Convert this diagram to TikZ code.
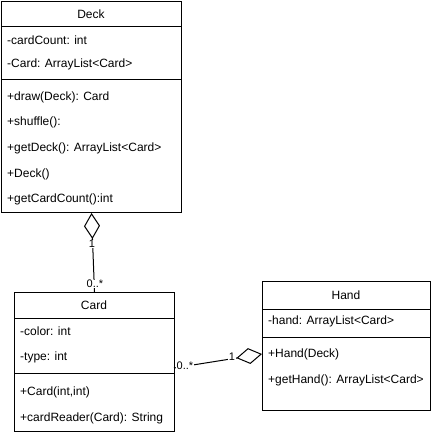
\documentclass[tikz,border=0pt]{standalone}
\usepackage{fontspec}
\setmainfont{Liberation Sans}
\usetikzlibrary{arrows.meta}
\begin{document}
\begin{tikzpicture}[x=1pt,y=-1pt,
  box/.style={draw,line width=1pt,rectangle,inner sep=0pt,anchor=north west},
  txt/.style={anchor=west,inner sep=0pt,font=\fontsize{12}{14}\selectfont},
  ttl/.style={anchor=center,inner sep=0pt,font=\fontsize{12}{14}\selectfont},
  sep/.style={line width=1pt},
  lbl/.style={fill=white,inner sep=0.6pt,font=\fontsize{11}{13}\selectfont},
  agg/.style={line width=1pt,{Diamond[open,length=26pt,width=16pt,line width=1pt]}-}
]
\useasboundingbox (0,0) rectangle (431,434);
% Deck
\node[box,minimum width=180pt,minimum height=211pt] (deck) at (1,1) {};
\draw[sep] (deck.west |- 0,26) -- (deck.east |- 0,26);
\draw[sep] (deck.west |- 0,79) -- (deck.east |- 0,79);
\node[ttl] (deckt) at (91,14) {Deck};
\node[txt] (d1) at (7,40) {-cardCount: int};
\node[txt] (d2) at (7,64) {-Card: ArrayList<Card>};
\node[txt] (d3) at (7,97) {+draw(Deck): Card};
\node[txt] (d4) at (7,122) {+shuffle():};
\node[txt] (d5) at (7,148) {+getDeck(): ArrayList<Card>};
\node[txt] (d6) at (7,174) {+Deck()};
\node[txt] (d7) at (7,199) {+getCardCount():int};
% Card
\node[box,minimum width=160pt,minimum height=139pt] (card) at (14,292) {};
\draw[sep] (card.west |- 0,318) -- (card.east |- 0,318);
\draw[sep] (card.west |- 0,373) -- (card.east |- 0,373);
\node[ttl] (cardt) at (94,305) {Card};
\node[txt] (c1) at (20,331) {-color: int};
\node[txt] (c2) at (20,357) {-type: int};
\node[txt] (c3) at (20,392) {+Card(int,int)};
\node[txt] (c4) at (20,418) {+cardReader(Card): String};
% Hand
\node[box,minimum width=168pt,minimum height=129pt] (hand) at (262,281) {};
\draw[sep] (hand.west |- 0,309) -- (hand.east |- 0,309);
\draw[sep] (hand.west |- 0,337) -- (hand.east |- 0,337);
\node[ttl] (handt) at (346,295) {Hand};
\node[txt] (h1) at (268,321) {-hand: ArrayList<Card>};
\node[txt] (h2) at (268,354) {+Hand(Deck)};
\node[txt] (h3) at (268,380) {+getHand(): ArrayList<Card>};
% connectors
\coordinate (cardR) at (174,368);
\coordinate (handL) at (262,354);
\draw[agg] (deck.south) -- (card.north);
\draw[agg] (handL) -- (cardR);
\node[lbl] (l1) at (92,244) {1};
\node[lbl] (l2) at (95,284) {0..*};
\node[lbl] (l3) at (232,357) {1};
\node[lbl] (l4) at (185,366) {0..*};
\end{tikzpicture}
\end{document}
